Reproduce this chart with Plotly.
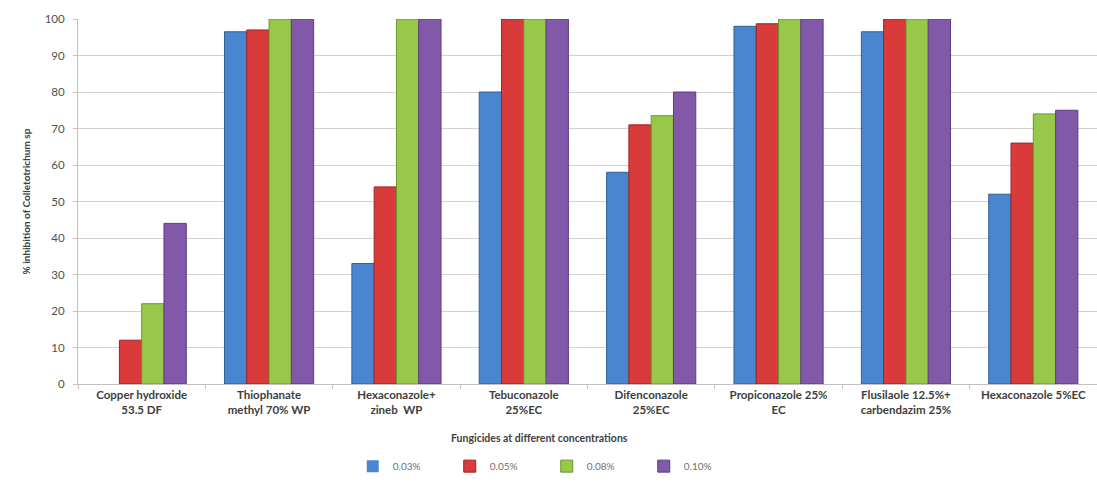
import plotly.graph_objects as go

# Fungicide treatments (x categories)
fungicides = [
    "Copper hydroxide<br>53.5 DF",
    "Thiophanate<br>methyl 70% WP",
    "Hexaconazole+<br>zineb  WP",
    "Tebuconazole<br>25%EC",
    "Difenconazole<br>25%EC",
    "Propiconazole 25%<br>EC",
    "Flusilaole 12.5%+<br>carbendazim 25%",
    "Hexaconazole 5%EC",
]

# % inhibition at each concentration
conc_003 = [0, 96.5, 33, 80, 58, 98, 96.5, 52]
conc_005 = [12, 97, 54, 100, 71, 98.7, 100, 66]
conc_008 = [22, 100, 100, 100, 73.5, 100, 100, 74]
conc_010 = [44, 100, 100, 100, 80, 100, 100, 75]

series_names = ["0.03%", "0.05%", "0.08%", "0.10%"]
series_values = [conc_003, conc_005, conc_008, conc_010]
fill_colors = ["#4a86cf", "#d93a3a", "#98c84a", "#8258a8"]
edge_colors = ["#2f5f99", "#9c2424", "#6d9430", "#5c3d80"]

font_family = "Lato, 'Open Sans', sans-serif"

fig = go.Figure()
for name, vals, fc, ec in zip(series_names, series_values, fill_colors, edge_colors):
    fig.add_trace(go.Bar(
        x=fungicides, y=vals, name=name,
        marker=dict(
            color=fc,
            # no outline on zero-height bars
            line=dict(color=ec, width=[1 if v > 0 else 0 for v in vals]),
        ),
    ))

fig.update_layout(
    width=1097, height=502,
    margin=dict(l=78, r=0, t=19, b=118),
    barmode="group", bargap=0.3, bargroupgap=0,
    plot_bgcolor="white", paper_bgcolor="white",
    font=dict(family=font_family, size=11, color="#404040"),
    showlegend=True,
    legend=dict(
        orientation="h", x=0.46, xanchor="center", y=-0.225, yanchor="middle",
        font=dict(size=10, color="#707070"), itemwidth=30,
        entrywidth=52, entrywidthmode="pixels",
        traceorder="normal",
    ),
)

fig.update_xaxes(
    showline=True, linecolor="#c8c0c0", linewidth=1,
    ticks="outside", tickson="boundaries", ticklen=4, tickcolor="#c8c0c0",
    tickfont=dict(size=11.5, color="#404040", weight="bold"),
    showgrid=False,
)
fig.update_yaxes(
    range=[0, 100], dtick=10,
    showline=True, linecolor="#c8c0c0", linewidth=1,
    ticks="outside", ticklen=4, tickcolor="#c8c0c0",
    gridcolor="#d8cfcf", gridwidth=1,
    tickfont=dict(size=11.5, color="#505050"),
    ticklabelstandoff=6,
    zeroline=False,
)

fig.add_annotation(
    text="% inhibition of Colletotrichum sp",
    xref="paper", yref="paper", x=-0.059, y=0.5,
    textangle=-90, showarrow=False,
    font=dict(size=10, color="#404040", weight="bold"),
)
fig.add_annotation(
    text="Fungicides at different concentrations",
    xref="paper", yref="paper", x=0.453, y=-0.148, yanchor="middle",
    showarrow=False,
    font=dict(size=10.5, color="#404040", weight="bold"),
)

fig.write_html("out.html")
